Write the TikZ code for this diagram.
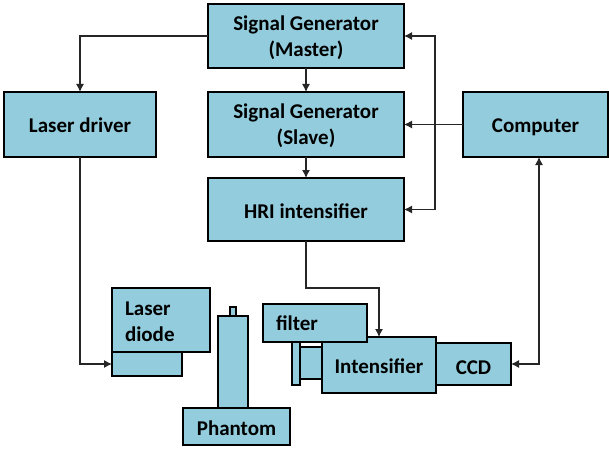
\documentclass[tikz,border=0pt]{standalone}
\usepackage{fontspec}
\setmainfont{Carlito}
\usetikzlibrary{arrows.meta}
\definecolor{boxblue}{RGB}{147,205,221}

\begin{document}
\begin{tikzpicture}[
x=1pt,
y=-1pt,
box/.style={
  draw=black,
  fill=boxblue,
  line width=2.4pt,
  inner sep=0pt,
  outer sep=0pt,
  align=center,
  font=\fontsize{21}{26}\selectfont\bfseries
  },
oneline/.style={
  box,
  text depth=0pt,
  text height=17pt
  },
twolines/.style={
  box,
  text depth=0pt
  },
leftbox/.style={
  box,
  align=left,
  inner xsep=13pt
  },
wire/.style={
  line width=1.1pt,
  draw=black!85
  },
>={Latex[length=8pt,width=8pt]}
]
\useasboundingbox (0,0) rectangle (609,449);

\node[twolines,minimum width=196pt,minimum height=64pt] (master) at (306,36) {Signal Generator\\(Master)};
\node[twolines,minimum width=196pt,minimum height=65pt] (slave) at (306,124.5) {Signal Generator\\(Slave)};
\node[oneline,minimum width=196pt,minimum height=63pt] (hri) at (306,209.5) {HRI intensifier};
\node[oneline,minimum width=152pt,minimum height=65pt] (driver) at (80,124.5) {Laser driver};
\node[oneline,minimum width=145pt,minimum height=65pt] (computer) at (535.5,124.5) {Computer};

% laser
\node[box,minimum width=70pt,minimum height=24pt] (base) at (147,364) {};
\node[leftbox,text width=72pt,minimum height=64pt,text depth=22pt] (diode) at (161,320) {Laser\\diode};

% phantom
\node[box,minimum width=6pt,minimum height=9pt] (tip) at (233,311.5) {};
\node[box,minimum width=30pt,minimum height=92pt] (column) at (233,362) {};
\node[oneline,minimum width=107pt,minimum height=37pt] (phantom) at (236.5,426.5) {Phantom};

% camera
\node[box,minimum width=8pt,minimum height=43pt] (plate) at (296,363.5) {};
\node[box,minimum width=22pt,minimum height=32pt] (lens) at (311,363) {};
\node[oneline,minimum width=114pt,minimum height=56pt] (intensifier) at (379,365) {Intensifier};
\node[leftbox,text width=78pt,minimum height=38pt] (filter) at (315,323) {filter};
\node[oneline,minimum width=75pt,minimum height=42pt,text height=20pt] (ccd) at (473.5,364) {CCD};

\coordinate (bustop) at (435,36);
\coordinate (busbot) at (435,209.5);
\coordinate (ccdbend) at (539,364);

\draw[wire,->] (master.west) -| (driver.north);
\draw[wire,->] (master.south) -- (slave.north);
\draw[wire,->] (slave.south) -- (hri.north);
\draw[wire,->] (computer.west) -- (slave.east);
\draw[wire,<->] (master.east) -- (bustop) -- (busbot) -- (hri.east);
\draw[wire,->] (driver.south) |- (base.west);
\draw[wire,->] (hri.south) -- ++(0,47) -| (intensifier.north);
\draw[wire,<->] (computer.south -| ccdbend) -- (ccdbend) -- (ccd.east);

\end{tikzpicture}
\end{document}
